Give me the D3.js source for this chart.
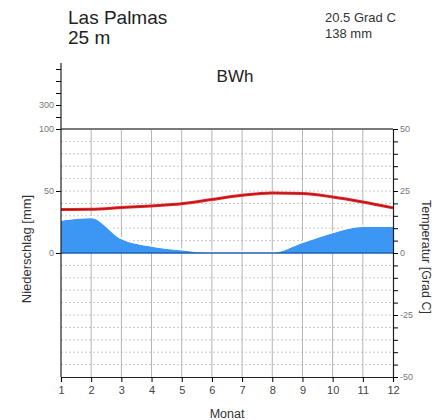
<!DOCTYPE html>
<html>
<head>
<meta charset="utf-8">
<script src="https://cdn.jsdelivr.net/npm/d3@7"></script>
<style>
  body { margin: 0; background: #fff; }
  text { font-family: "Liberation Sans", Arial, sans-serif; }
</style>
</head>
<body>
<div id="chart"></div>
<script>
var width = 448,
    height = 420;

// Klimadaten Las Palmas
var months = [1, 2, 3, 4, 5, 6, 7, 8, 9, 10, 11, 12];
var temp = [17.5, 17.6, 18.3, 19.0, 19.9, 21.6, 23.3, 24.2, 24.0, 22.6, 20.6, 18.2];
var precip = [26, 28, 11, 5, 2, 0, 0, 0, 8, 16, 21, 21];
var tempTicks = [-50, -25, 0, 25, 50];
var precipTicks = [0, 50, 100];
var upperTicks = [200, 300, 400, 500, 600];
var upperLabels = [300];

var svg = d3.select("#chart").append("svg")
    .attr("width", width)
    .attr("height", height);

var x = d3.scaleLinear().domain([1, 12]).range([61, 393]);
var yT = d3.scaleLinear().domain([-50, 50]).range([377, 129]);
var yP = d3.scaleLinear().domain([0, 100]).range([253, 129]);
var yUp = d3.scaleLinear().domain([100, 600]).range([129, 69]);

// horizontal gridlines every 5 degrees
svg.selectAll(".hgrid")
  .data(d3.range(-45, 50, 5).filter(function(d) { return d !== 0; }))
  .enter().append("line")
    .attr("x1", x(1)).attr("x2", x(12))
    .attr("y1", function(d) { return yT(d); })
    .attr("y2", function(d) { return yT(d); })
    .attr("stroke", "#c8c8c8")
    .attr("stroke-dasharray", "2,2")
    .attr("stroke-width", 1);

// vertical gridlines
svg.selectAll(".vgrid")
  .data(months.slice(1, 11))
  .enter().append("line")
    .attr("x1", function(d) { return x(d); })
    .attr("x2", function(d) { return x(d); })
    .attr("y1", yT(50)).attr("y2", yT(-50))
    .attr("stroke", "#b4b4b4")
    .attr("stroke-width", 1);

// Niederschlag
var area = d3.area()
    .curve(d3.curveMonotoneX)
    .x(function(d, i) { return x(months[i]); })
    .y0(yP(0))
    .y1(function(d) { return yP(d); });

svg.append("path")
    .datum(precip)
    .attr("d", area)
    .attr("fill", "#3b97f3");

svg.append("path")
    .datum(precip)
    .attr("d", d3.line()
      .curve(d3.curveMonotoneX)
      .x(function(d, i) { return x(months[i]); })
      .y(function(d) { return yP(d) - 1.2; }))
    .attr("fill", "none")
    .attr("stroke", "#fff")
    .attr("stroke-width", 2)
    .attr("opacity", 0.85);

// zero line
svg.append("line")
    .attr("x1", x(1)).attr("x2", x(12))
    .attr("y1", yT(0)).attr("y2", yT(0))
    .attr("stroke", "#1f5fb5")
    .attr("stroke-width", 1.5);

// top line (100 mm / 50 Grad)
svg.append("line")
    .attr("x1", x(1)).attr("x2", x(12))
    .attr("y1", yT(50)).attr("y2", yT(50))
    .attr("stroke", "#7a7a7a")
    .attr("stroke-width", 2);

// Temperatur
var line = d3.line()
    .curve(d3.curveMonotoneX)
    .x(function(d, i) { return x(months[i]); })
    .y(function(d) { return yT(d); });

svg.append("path")
    .datum(temp)
    .attr("d", line)
    .attr("fill", "none")
    .attr("stroke", "#e8262a")
    .attr("stroke-width", 3);

svg.append("path")
    .datum(temp)
    .attr("d", line)
    .attr("fill", "none")
    .attr("stroke", "#a01010")
    .attr("stroke-width", 0.8);

// bottom axis
var xAxis = svg.append("g")
    .attr("transform", "translate(0," + yT(-50) + ")")
    .call(d3.axisBottom(x).tickValues(months).tickFormat(d3.format("d")).tickSize(5).tickPadding(4));
xAxis.select(".domain").attr("stroke", "#222").attr("stroke-width", 1.2);
xAxis.selectAll("text").attr("font-size", 11).attr("fill", "#444");

// left axis
var leftAxis = svg.append("g")
    .attr("transform", "translate(" + x(1) + ",0)")
    .call(d3.axisLeft(yP).tickValues(precipTicks).tickSize(5).tickPadding(2));
leftAxis.select(".domain").remove();
leftAxis.selectAll("text").attr("font-size", 9).attr("fill", "#777");

var upAxis = svg.append("g")
    .attr("transform", "translate(" + x(1) + ",0)")
    .call(d3.axisLeft(yUp).tickValues(upperTicks)
      .tickFormat(function(d) { return upperLabels.indexOf(d) >= 0 ? d : ""; })
      .tickSize(5).tickPadding(2));
upAxis.select(".domain").remove();
upAxis.selectAll("text").attr("font-size", 9).attr("fill", "#777");

svg.append("line")
    .attr("x1", x(1)).attr("x2", x(1))
    .attr("y1", 63).attr("y2", yT(-50))
    .attr("stroke", "#222")
    .attr("stroke-width", 1.2);

// right axis
var rightAxis = svg.append("g")
    .attr("transform", "translate(" + x(12) + ",0)")
    .call(d3.axisRight(yT).tickValues(d3.range(-50, 55, 5))
      .tickFormat(function(d) { return tempTicks.indexOf(d) >= 0 ? d : ""; })
      .tickSize(5).tickPadding(2));
rightAxis.select(".domain").attr("stroke", "#222").attr("stroke-width", 1.2);
rightAxis.selectAll("text").attr("font-size", 9).attr("fill", "#777");

// labels
svg.append("text")
    .attr("x", 68).attr("y", 24)
    .attr("font-size", 19)
    .attr("fill", "#222")
    .text("Las Palmas");

svg.append("text")
    .attr("x", 68).attr("y", 44)
    .attr("font-size", 19)
    .attr("fill", "#222")
    .text("25 m");

svg.append("text")
    .attr("x", 325).attr("y", 22)
    .attr("font-size", 13)
    .attr("fill", "#333")
    .text("20.5 Grad C");

svg.append("text")
    .attr("x", 325).attr("y", 38)
    .attr("font-size", 13)
    .attr("fill", "#333")
    .text("138 mm");

svg.append("text")
    .attr("x", 235).attr("y", 82)
    .attr("text-anchor", "middle")
    .attr("font-size", 17)
    .attr("fill", "#222")
    .text("BWh");

svg.append("text")
    .attr("transform", "translate(31,249) rotate(-90)")
    .attr("text-anchor", "middle")
    .attr("font-size", 13)
    .attr("fill", "#333")
    .text("Niederschlag [mm]");

svg.append("text")
    .attr("transform", "translate(422,257) rotate(90)")
    .attr("text-anchor", "middle")
    .attr("font-size", 12.5)
    .attr("fill", "#333")
    .text("Temperatur [Grad C]");

svg.append("text")
    .attr("x", 227).attr("y", 418)
    .attr("text-anchor", "middle")
    .attr("font-size", 12.5)
    .attr("fill", "#333")
    .text("Monat");
</script>
</body>
</html>
